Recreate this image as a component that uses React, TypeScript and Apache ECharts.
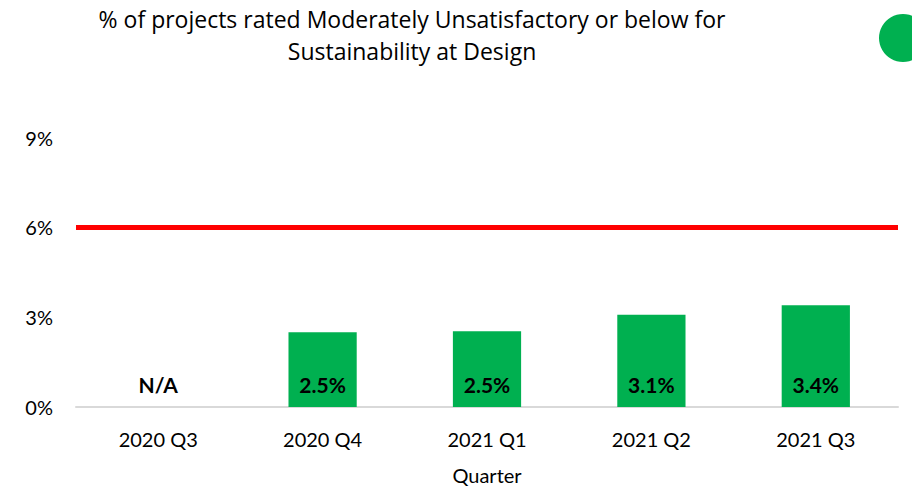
import React, { useEffect, useRef } from "react";
import * as echarts from "echarts";

const titleLines = [
  "% of projects rated Moderately Unsatisfactory or below for",
  "Sustainability at Design",
];
const categories = ["2020 Q3", "2020 Q4", "2021 Q1", "2021 Q2", "2021 Q3"];
const values: (number | null)[] = [null, 2.5, 2.53, 3.08, 3.4];
const threshold = 6;
const yTicks = [0, 3, 6, 9];
const xAxisName = "Quarter";

const FONT = "Lato, 'Liberation Sans', sans-serif";
const TITLE_FONT = "'Open Sans', Lato, sans-serif";
const GREEN = "#00B050";

export default function App() {
  const ref = useRef<HTMLDivElement>(null);
  useEffect(() => {
    document.body.style.margin = "0";
    if (!ref.current) return;
    const chart = echarts.init(ref.current, null, { renderer: "svg" });
    chart.setOption({
      animation: false,
      textStyle: { fontFamily: FONT },
      title: {
        text: titleLines.join("\n"),
        left: 407,
        top: -2,
        textAlign: "center",
        textStyle: {
          fontFamily: TITLE_FONT,
          fontSize: 23,
          fontWeight: "normal",
          color: "#000",
          lineHeight: 32,
        },
      },
      graphic: [
        {
          type: "circle",
          shape: { cx: 903, cy: 38, r: 24 },
          style: { fill: GREEN },
        },
      ],
      grid: { left: 76, right: 14, top: 137.5, bottom: 81 },
      xAxis: {
        type: "category",
        data: categories,
        name: xAxisName,
        nameLocation: "middle",
        nameGap: 58,
        nameTextStyle: { fontFamily: FONT, fontSize: 20, color: "#000" },
        axisLine: { lineStyle: { color: "#d9d9d9", width: 2 } },
        axisTick: { show: false },
        axisLabel: { fontFamily: FONT, fontSize: 20, color: "#000", margin: 22 },
      },
      yAxis: {
        type: "value",
        min: yTicks[0],
        max: yTicks[yTicks.length - 1],
        interval: 3,
        splitLine: { show: false },
        axisLine: { show: false },
        axisTick: { show: false },
        axisLabel: {
          fontFamily: FONT,
          fontSize: 20,
          color: "#000",
          margin: 23,
          formatter: (v: number) => `${v}%`,
        },
      },
      series: [
        {
          type: "bar",
          data: values.map((v) => (v == null ? 0 : v)),
          barWidth: "41.5%",
          itemStyle: { color: GREEN },
          label: {
            show: true,
            position: "insideBottom",
            distance: 12,
            fontFamily: FONT,
            fontSize: 21,
            fontWeight: "bold",
            color: "#000",
            formatter: (p: any) => {
              const v = values[p.dataIndex];
              return v == null ? "N/A" : `${v.toFixed(1)}%`;
            },
          },
          markLine: {
            silent: true,
            symbol: "none",
            label: { show: false },
            lineStyle: { color: "#FF0000", width: 5, type: "solid" },
            data: [{ yAxis: threshold }],
          },
        },
      ],
    });
    return () => chart.dispose();
  }, []);
  return <div ref={ref} style={{ width: 912, height: 490 }} />;
}
